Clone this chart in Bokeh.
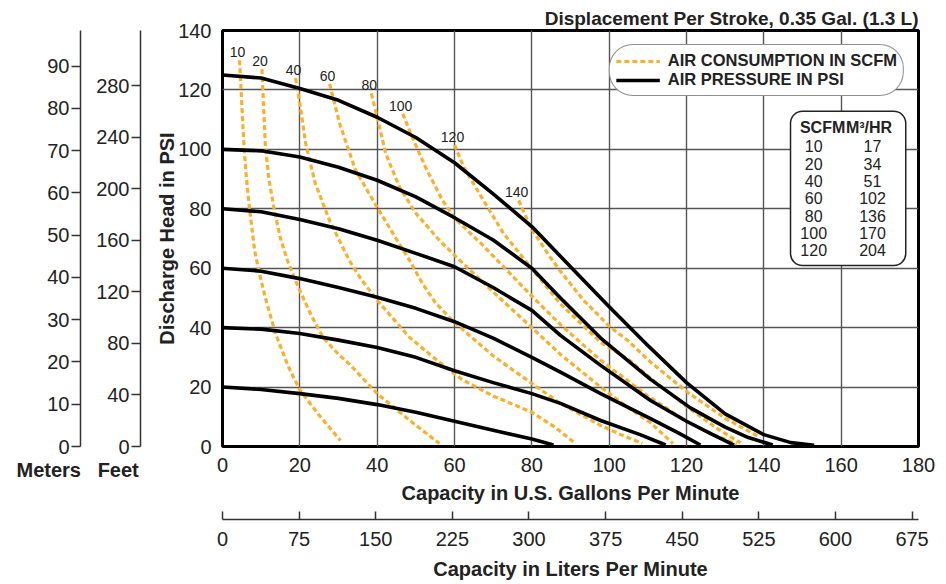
from bokeh.plotting import figure
from bokeh.models import (LinearAxis, Range1d, FixedTicker, Legend, LegendItem,
                          BoxAnnotation, Title)
from bokeh.core.properties import value
from bokeh.embed import file_html
from bokeh.resources import INLINE

# ---------------- data ----------------
# Air pressure curves (GPM, PSI)
pressure_levels = [20, 40, 60, 80, 100, 125]
p20 = [(0, 20), (10, 19.2), (20, 17.8), (30, 16.2), (40, 14.1), (50, 11.5), (60, 8.5), (70, 5.5), (80, 2.5), (85.6, 0.5)]
p40 = [(0, 40), (10, 39.5), (20, 38), (30, 35.8), (40, 33.3), (50, 30), (60, 25.5), (70, 21.5), (80, 17.8), (87.4, 14.5), (97.8, 8.75), (108, 4), (114.6, 0.5)]
p60 = [(0, 60), (10, 59), (20, 56.5), (30, 53.5), (40, 50.2), (50, 46.5), (60, 42), (70, 36.5), (80, 30), (87.4, 25), (97.8, 17.8), (110.7, 9.4), (118, 4.5), (123.6, 0.5)]
p80 = [(0, 80), (10, 79), (20, 76.4), (30, 73.3), (40, 69.4), (50, 65), (60, 60.5), (70, 53.5), (80, 45.8), (87.4, 37.4), (97.8, 27.3), (110.7, 15.5), (120, 8.5), (126, 4.5), (132.3, 0.5)]
p100 = [(0, 100), (10, 99.5), (20, 97.4), (30, 94), (40, 89.6), (50, 84), (60, 77), (70, 69.5), (80, 60), (87.4, 50), (97.8, 36.5), (110.7, 22.6), (121, 13), (130, 6.5), (136, 3), (142.3, 0.5)]
p125 = [(0, 125), (10, 124), (20, 120.5), (30, 116.5), (40, 110.8), (50, 104), (60, 95.5), (70, 85), (80, 74), (90, 60.5), (100, 47), (110, 34), (120, 21.5), (130, 11), (140, 4), (147, 1.3), (153, 0.4)]

# Air consumption curves (GPM, PSI)
air_levels = [10, 20, 40, 60, 80, 100, 120, 140]
a10 = [(4.4, 130), (4.8, 120), (5.2, 110), (5.6, 100), (6.2, 90), (7.0, 80), (8.3, 66), (9.6, 58), (11.1, 50), (13.7, 38), (17, 27), (20, 19), (25, 10.5), (30.5, 2)]
a20 = [(10.2, 127), (10.6, 115), (11.1, 101), (12, 90), (13.4, 79.5), (15, 70), (16.8, 62.6), (18.5, 57), (20, 52.5), (23, 44), (26, 36.7), (30, 31), (33, 27.5), (40, 17.8), (48.4, 8.8), (56.1, 1)]
a40 = [(18.9, 124), (20, 115.5), (21.5, 102), (24, 88.5), (27.7, 76), (32.8, 62.6), (36, 56), (40, 49.2), (48.4, 36.7), (55, 29.5), (62, 22.5), (70, 17), (80, 11.5), (86, 6.5), (91.3, 1)]
a60 = [(27.7, 122), (30.3, 108.7), (34.4, 93), (40, 80.5), (44.7, 70.4), (48.4, 62.6), (51.7, 54.9), (55, 48.5), (59, 43), (62, 39.5), (70, 30.5), (80, 21.2), (87.4, 14.5), (97.8, 7.1), (103, 4), (108.6, 1)]
a80 = [(38.5, 118.8), (40, 110.8), (42.2, 98.6), (45.8, 87.2), (50, 78.5), (56.1, 69.4), (60.3, 64), (70, 52), (80, 40), (87.4, 31), (97.8, 20), (105, 13), (110.7, 8), (116.5, 1)]
a100 = [(46.6, 112), (49.1, 104), (52.5, 94), (56.9, 82.8), (60.3, 76.5), (67.5, 67.5), (79.7, 51), (87.4, 41), (97.8, 29), (110, 17), (120, 8.5), (127, 4), (133, 0.8)]
a120 = [(60, 101.5), (62.4, 94), (67.5, 82.8), (72.7, 71.7), (79.7, 60.3), (87.4, 48), (97.8, 35), (104.8, 29.5), (110.7, 23), (120, 13.5), (128, 6), (134, 1.2)]
a140 = [(76.6, 82.8), (79.7, 73.7), (84.8, 63.6), (87.4, 59), (93.4, 49.2), (100, 40.5), (104.8, 35.7), (110.7, 28.4), (120, 18.5), (130, 9.5), (138.4, 3.5)]

# Conversion table
table_scfm = [10, 20, 40, 60, 80, 100, 120]
table_m3hr = [17, 34, 51, 102, 136, 170, 204]

# Axis ticks
gpm_ticks = [0, 20, 40, 60, 80, 100, 120, 140, 160, 180]
psi_ticks = [0, 20, 40, 60, 80, 100, 120, 140]
lpm_ticks = [0, 75, 150, 225, 300, 375, 450, 525, 600, 675]
ft_ticks = [0, 40, 80, 120, 160, 200, 240, 280]
m_ticks = [0, 10, 20, 30, 40, 50, 60, 70, 80, 90]
unit_names = "Meters\u00a0\u00a0\u00a0Feet"

GPM_MAX, PSI_MAX = 180, 140
GAL_TO_L, PSI_TO_FT, PSI_TO_M = 3.785, 2.307, 0.7031

# ---------------- styling ----------------
FONT = "Liberation Sans"
TXT = "#222222"
ORANGE = "#F8B12F"
GRID = "#555555"
UNIT_SLOT = 46          # height reserved right under the frame by the unit-name title

p = figure(width=936, height=582, output_backend="svg", toolbar_location=None,
           x_range=Range1d(0, GPM_MAX), y_range=Range1d(0, PSI_MAX),
           min_border_left=222, min_border_right=18, min_border_top=30, min_border_bottom=0)

p.title.text = "Displacement Per Stroke, 0.35 Gal. (1.3 L)"
p.title.align = "right"
p.title.text_font = FONT
p.title.text_font_size = "19px"
p.title.text_font_style = "bold"
p.title.text_color = TXT
p.title.standoff = 4

p.outline_line_color = "black"
p.outline_line_width = 3
p.outline_line_alpha = 1

p.xgrid.ticker = gpm_ticks
p.ygrid.ticker = psi_ticks
p.grid.grid_line_color = GRID
p.grid.grid_line_width = 1.4

def style_axis(ax, tick_in=0, tick_out=0, standoff=8):
    ax.major_label_text_font = FONT
    ax.major_label_text_font_size = "20px"
    ax.major_label_text_color = TXT
    ax.axis_label_text_font = FONT
    ax.axis_label_text_font_size = "20px"
    ax.axis_label_text_font_style = "bold"
    ax.axis_label_text_color = TXT
    ax.minor_tick_line_color = None
    ax.major_tick_in = tick_in
    ax.major_tick_out = tick_out
    ax.major_label_standoff = standoff
    ax.major_tick_line_color = "#333333"
    ax.major_tick_line_width = 1.5
    ax.axis_line_color = "#333333"
    ax.axis_line_width = 1.5

def spacer(gap, **kw):
    # an empty axis whose only job is to reserve `gap` pixels in a side panel
    return LinearAxis(ticker=FixedTicker(ticks=[0]), axis_line_color=None,
                      major_tick_line_color="white", major_tick_line_width=1,
                      minor_tick_line_color=None, major_label_text_color=None,
                      major_label_text_font_size="1px",
                      major_tick_out=gap, major_tick_in=0, minor_tick_out=0,
                      major_label_standoff=0, **kw)

# extra ranges
p.extra_x_ranges = {"lpm": Range1d(0, GPM_MAX * GAL_TO_L)}
p.extra_y_ranges = {"ft": Range1d(0, PSI_MAX * PSI_TO_FT),
                    "m": Range1d(0, PSI_MAX * PSI_TO_M)}

# main x axis (its slot starts below the unit-name title, so pull labels up)
xa = p.xaxis[0]
xa.ticker = gpm_ticks
style_axis(xa, 0, 0, 12 - UNIT_SLOT)
xa.axis_line_color = None
xa.axis_label = "Capacity in U.S. Gallons Per Minute"
xa.axis_label_standoff = 7

# unit names under the two left scales ("Meters", "Feet")
unit_title = Title(text=unit_names, align="left", vertical_align="bottom",
                   offset=-206, standoff=21, text_font=FONT, text_font_size="20px",
                   text_font_style="bold", text_color=TXT)

sp_b = spacer(13)
la = LinearAxis(x_range_name="lpm", ticker=FixedTicker(ticks=lpm_ticks))
style_axis(la, 8, 0, 12)
la.axis_label = "Capacity in Liters Per Minute"
la.axis_label_standoff = 9
p.below = [unit_title, xa, sp_b, la]

# main y axis
ya = p.yaxis[0]
ya.ticker = psi_ticks
style_axis(ya, 0, 0, 11)
ya.axis_line_color = None
ya.axis_label = "Discharge Head in PSI"
ya.axis_label_standoff = -3

# left: spacer, feet, spacer, meters
p.add_layout(spacer(13), "left")
fa = LinearAxis(y_range_name="ft", ticker=FixedTicker(ticks=ft_ticks))
style_axis(fa, 0, 9, 2)
p.add_layout(fa, "left")
p.add_layout(spacer(13), "left")
ma = LinearAxis(y_range_name="m", ticker=FixedTicker(ticks=m_ticks))
style_axis(ma, 0, 9, 2)
p.add_layout(ma, "left")

# ---------------- curves ----------------
air_curves = [a10, a20, a40, a60, a80, a100, a120, a140]
pressure_curves = [p20, p40, p60, p80, p100, p125]

air_renderers = []
for lvl, pts in zip(air_levels, air_curves):
    xs = [pt[0] for pt in pts]
    ys = [pt[1] for pt in pts]
    r = p.line(xs, ys, line_color=ORANGE, line_width=3.2, line_dash="5 3")
    air_renderers.append(r)
    p.text(x=[xs[0]], y=[ys[0]], text=[str(lvl)], text_font=value(FONT),
           text_font_size="14px", text_color=TXT, text_align="center",
           text_baseline="bottom", y_offset=-3, x_offset=-2)

press_renderers = []
for lvl, pts in zip(pressure_levels, pressure_curves):
    xs = [pt[0] for pt in pts]
    ys = [pt[1] for pt in pts]
    r = p.line(xs, ys, line_color="black", line_width=3.6, line_join="round")
    press_renderers.append(r)

# ---------------- legend ----------------
legend = Legend(items=[LegendItem(label="AIR CONSUMPTION IN SCFM", renderers=[air_renderers[0]]),
                       LegendItem(label="AIR PRESSURE IN PSI", renderers=[press_renderers[0]])],
                location="top_right", margin=14, padding=6, spacing=0,
                label_height=16, glyph_height=16, glyph_width=44, label_standoff=8,
                label_text_font=FONT, label_text_font_size="16.5px",
                label_text_font_style="bold", label_text_color=TXT,
                border_line_color="#222222", border_line_width=1.5,
                background_fill_color="white", background_fill_alpha=1)
if "border_radius" in Legend.properties():
    legend.border_radius = 24
p.add_layout(legend)

# ---------------- conversion table ----------------
box = BoxAnnotation(left=146.9, right=176.7, top=112.8, bottom=60.9,
                    fill_color="white", fill_alpha=1, line_color="#222222",
                    line_width=1.5, line_alpha=1)
if "border_radius" in BoxAnnotation.properties():
    box.border_radius = 12
p.add_layout(box)

hdr_y = 107.3
p.text(x=[155.2, 167.2], y=[hdr_y, hdr_y], text=["SCFM", "M³/HR"], text_font=value(FONT),
       text_font_size="16px", text_font_style="bold", text_color=TXT,
       text_align="center", text_baseline="middle", level="overlay")
row_top, row_step = 101.0, 5.83
ys = [row_top - i * row_step for i in range(len(table_scfm))]
p.text(x=[152.9] * len(table_scfm), y=ys, text=[str(v) for v in table_scfm],
       text_font=value(FONT), text_font_size="16px", text_color=TXT,
       text_align="center", text_baseline="middle", level="overlay")
p.text(x=[168.1] * len(table_m3hr), y=ys, text=[str(v) for v in table_m3hr],
       text_font=value(FONT), text_font_size="16px", text_color=TXT,
       text_align="center", text_baseline="middle", level="overlay")

open("out.html", "w").write(file_html(p, INLINE))
